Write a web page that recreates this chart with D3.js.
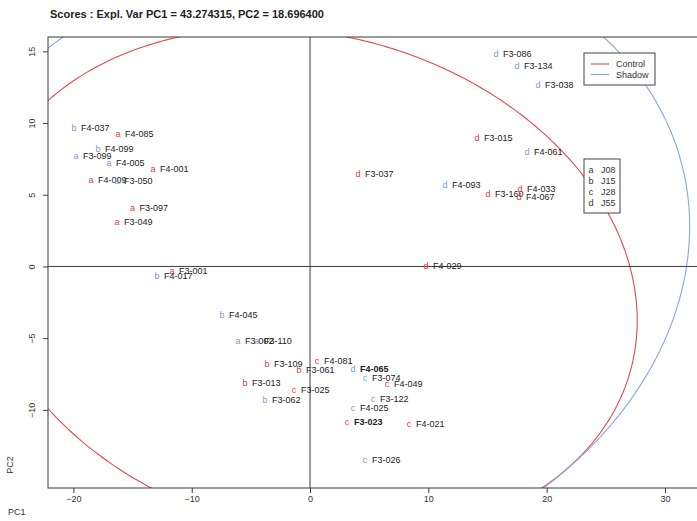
<!DOCTYPE html>
<html><head><meta charset="utf-8">
<script src="https://cdn.jsdelivr.net/npm/d3@7"></script>
<style>
body{margin:0;background:#fff}
svg{display:block}
text{font-family:"Liberation Sans",Arial,Helvetica,sans-serif}
</style>
</head><body>
<svg id="c" width="697" height="521"></svg>
<script>
// ---------- data ----------
const sampleNames = ["F4-037","F4-085","F4-099","F3-099","F4-005","F4-001","F4-009","F3-050","F3-097","F3-049",
  "F3-001","F4-017","F4-045","F3-002","F3-110","F3-109","F3-061","F4-081","F3-013","F3-025",
  "F3-062","F4-065","F3-074","F4-049","F3-122","F4-025","F3-023","F4-021","F3-026","F3-086",
  "F3-134","F3-038","F3-015","F4-061","F3-037","F4-093","F3-160","F4-033","F4-067","F4-029"];
const pc1Scores = [-19.95,-16.23,-17.92,-19.78,-16.99,-13.27,-18.51,-16.31,-15.0,-16.31,
  -11.67,-12.93,-7.44,-6.09,-4.48,-3.63,-0.93,0.59,-5.49,-1.35,
  -3.80,3.63,4.65,6.51,5.33,3.63,3.13,8.37,4.65,15.72,
  17.50,19.27,14.12,18.34,4.06,11.41,15.05,17.75,17.67,9.81];
const pc2Scores = [9.66,9.24,8.23,7.71,7.25,6.83,6.03,5.96,4.11,3.10,
  -0.28,-0.66,-3.38,-5.16,-5.16,-6.76,-7.22,-6.59,-8.12,-8.61,
  -9.27,-7.15,-7.78,-8.16,-9.24,-9.87,-10.84,-10.98,-13.49,14.82,
  13.98,12.66,9.00,7.98,6.45,5.68,5.09,5.40,4.85,0.03];
const treatment = ["Shadow","Control","Shadow","Shadow","Shadow","Control","Control","Shadow","Control","Control",
  "Control","Shadow","Shadow","Shadow","Shadow","Control","Control","Control","Control","Control",
  "Shadow","Shadow","Shadow","Control","Shadow","Shadow","Control","Control","Shadow","Shadow",
  "Shadow","Shadow","Control","Shadow","Control","Shadow","Control","Control","Control","Control"];
const stageCode = ["b","a","b","a","a","a","a","a","a","a",
  "a","b","b","a","a","b","b","c","b","c",
  "b","d","c","c","c","c","c","c","c","d",
  "d","d","d","d","d","d","d","d","d","d"];
const treatments = ["Control","Shadow"];
const stageCodes = ["a","b","c","d"];
const stageNames = ["J08","J15","J28","J55"];
const xTicks = [-20,-10,0,10,20,30];
const yTicks = [-10,-5,0,5,10,15];
// points read along the two group ellipses (PC1, PC2)
const controlRimX = [-22.15,-17.75,-10.99,4.48,10.14,15.81,22.23,22.82,25.61,23.05,19.75,-15.13,-17.75,-19.44,-20.8,-22.15];
const controlRimY = [11.61,14.54,16.00,15.79,13.49,10.91,8.12,7.43,3.38,-12.10,-15.45,-15.45,-13.43,-12.10,-10.46,-8.82];
const shadowRimX = [-22.06,-20.88,25.53,30.43,31.28,32.12,23.84,20.03,-27.5,-32.4,-34.1,-25.8];
const shadowRimY = [15.58,16.0,15.24,9.52,8.12,3.38,-12.1,-15.52,-15.24,-9.5,-3.4,12.1];
const titleText = "Scores : Expl. Var PC1 = 43.274315, PC2 = 18.696400";

// ---------- layout ----------
const colors = {Control:"#e5383e", Shadow:"#7b98d8"};
const lineColors = {Control:"#e8474c", Shadow:"#8aa6de"};
const L=48, T=37, B=488, R=712;
const x = d3.scaleLinear().domain([-22.15, -22.15 + (R-L)/11.83]).range([L,R]);
const y = d3.scaleLinear().domain([-15.45, 16.0]).range([B,T]);
const svg = d3.select("#c");
svg.append("rect").attr("width",697).attr("height",521).attr("fill","#fff");

svg.append("defs").append("clipPath").attr("id","pc").append("rect")
  .attr("x",L).attr("y",T).attr("width",R-L).attr("height",B-T);

// conic least-squares fit: A x^2 + B xy + C y^2 + D x + E y = 1
function fitEllipse(xs, ys){
  const M = Array.from({length:5},()=>new Array(5).fill(0)), v = new Array(5).fill(0);
  xs.forEach((xx,i)=>{
    const yy = ys[i], r=[xx*xx,xx*yy,yy*yy,xx,yy];
    for(let a=0;a<5;a++){ v[a]+=r[a]; for(let b=0;b<5;b++) M[a][b]+=r[a]*r[b]; }
  });
  for(let c=0;c<5;c++){
    let p=c; for(let r=c+1;r<5;r++) if(Math.abs(M[r][c])>Math.abs(M[p][c])) p=r;
    [M[c],M[p]]=[M[p],M[c]]; [v[c],v[p]]=[v[p],v[c]];
    for(let r=0;r<5;r++){ if(r===c) continue; const f=M[r][c]/M[c][c];
      for(let k=c;k<5;k++) M[r][k]-=f*M[c][k]; v[r]-=f*v[c]; }
  }
  const [A,Bq,C,D,E] = v.map((val,i)=>val/M[i][i]);
  const det = 4*A*C - Bq*Bq;
  const x0 = (-2*C*D + Bq*E)/det, y0 = (-2*A*E + Bq*D)/det;
  const a0 = A*x0*x0 + Bq*x0*y0 + C*y0*y0 + D*x0 + E*y0 - 1;
  const pts = [];
  for(let i=0;i<=360;i++){
    const t = i*Math.PI/180, c=Math.cos(t), s=Math.sin(t);
    const a2 = A*c*c + Bq*c*s + C*s*s;
    const r = Math.sqrt(-a0/a2);
    pts.push([x0 + r*c, y0 + r*s]);
  }
  return pts;
}
const gClip = svg.append("g").attr("clip-path","url(#pc)");
const line = d3.line().x(d=>x(d[0])).y(d=>y(d[1]));
gClip.append("path").attr("d", line(fitEllipse(controlRimX,controlRimY)))
  .attr("fill","none").attr("stroke",lineColors.Control).attr("stroke-width",1.1);
gClip.append("path").attr("d", line(fitEllipse(shadowRimX,shadowRimY)))
  .attr("fill","none").attr("stroke",lineColors.Shadow).attr("stroke-width",1.1);

// zero lines
gClip.append("line").attr("x1",x(0)).attr("x2",x(0)).attr("y1",T).attr("y2",B).attr("stroke","#3a3a3a").attr("stroke-width",1);
gClip.append("line").attr("x1",L).attr("x2",R).attr("y1",y(0)).attr("y2",y(0)).attr("stroke","#3a3a3a").attr("stroke-width",1);

// plot box
svg.append("rect").attr("x",L).attr("y",T).attr("width",R-L).attr("height",B-T)
  .attr("fill","none").attr("stroke","#3a3a3a").attr("stroke-width",1);

// axes
const xAxis = d3.axisBottom(x).tickValues(xTicks).tickSize(5).tickPadding(3).tickFormat(d3.format("d"));
const gx = svg.append("g").attr("transform",`translate(0,${B})`).call(xAxis);
gx.select(".domain").remove();
gx.selectAll("line").attr("stroke","#3a3a3a");
gx.selectAll("text").attr("font-size",9).attr("fill","#333").attr("font-family","Liberation Sans, Arial, sans-serif");

const yAxis = d3.axisLeft(y).tickValues(yTicks).tickSize(5).tickFormat(d3.format("d"));
const gy = svg.append("g").attr("transform",`translate(${L},0)`).call(yAxis);
gy.select(".domain").remove();
gy.selectAll("line").attr("stroke","#3a3a3a");
gy.selectAll("text").attr("font-size",9).attr("fill","#333").attr("font-family","Liberation Sans, Arial, sans-serif")
  .attr("x",null).attr("dy",null).attr("text-anchor","middle")
  .attr("transform","translate(-13,0) rotate(-90)");

// titles
svg.append("text").attr("x",50).attr("y",18).attr("font-size",11).attr("font-weight","bold").attr("fill","#222").text(titleText);
svg.append("text").attr("transform","translate(13,465) rotate(-90)").attr("text-anchor","middle").attr("font-size",9).attr("fill","#333").text("PC2");
svg.append("text").attr("x",8).attr("y",515).attr("font-size",9).attr("fill","#333").text("PC1");

// points
const boldSet = new Set(["F4-065","F3-023"]);
const gp = svg.append("g").attr("clip-path","url(#pc)");
sampleNames.forEach((nm,i)=>{
  const px = x(pc1Scores[i]), py = y(pc2Scores[i]);
  gp.append("text").attr("x",px).attr("y",py).attr("dy","0.35em").attr("text-anchor","middle")
    .attr("font-size",9).attr("fill",colors[treatment[i]]).text(stageCode[i]);
  gp.append("text").attr("x",px+7).attr("y",py).attr("dy","0.35em")
    .attr("font-size",9).attr("fill","#222").attr("font-weight",boldSet.has(nm)?"bold":"normal").text(nm);
});

// legend 1 (treatment)
const lg1 = svg.append("g");
lg1.append("rect").attr("x",584).attr("y",53).attr("width",71).attr("height",32).attr("fill","#fff").attr("stroke","#444");
treatments.forEach((t,i)=>{
  const yy = 64 + i*10.5;
  lg1.append("line").attr("x1",591).attr("x2",609).attr("y1",yy).attr("y2",yy).attr("stroke",lineColors[t]).attr("stroke-width",1.1);
  lg1.append("text").attr("x",616).attr("y",yy).attr("dy","0.35em").attr("font-size",9).attr("fill","#333").text(t);
});
// legend 2 (stage)
const lg2 = svg.append("g");
lg2.append("rect").attr("x",584).attr("y",159).attr("width",36).attr("height",54).attr("fill","#fff").attr("stroke","#444");
stageCodes.forEach((s,i)=>{
  const yy = 170 + i*11;
  lg2.append("text").attr("x",591).attr("y",yy).attr("dy","0.35em").attr("text-anchor","middle").attr("font-size",9).attr("fill","#333").text(s);
  lg2.append("text").attr("x",601).attr("y",yy).attr("dy","0.35em").attr("font-size",9).attr("fill","#333").text(stageNames[i]);
});
</script>
</body></html>
